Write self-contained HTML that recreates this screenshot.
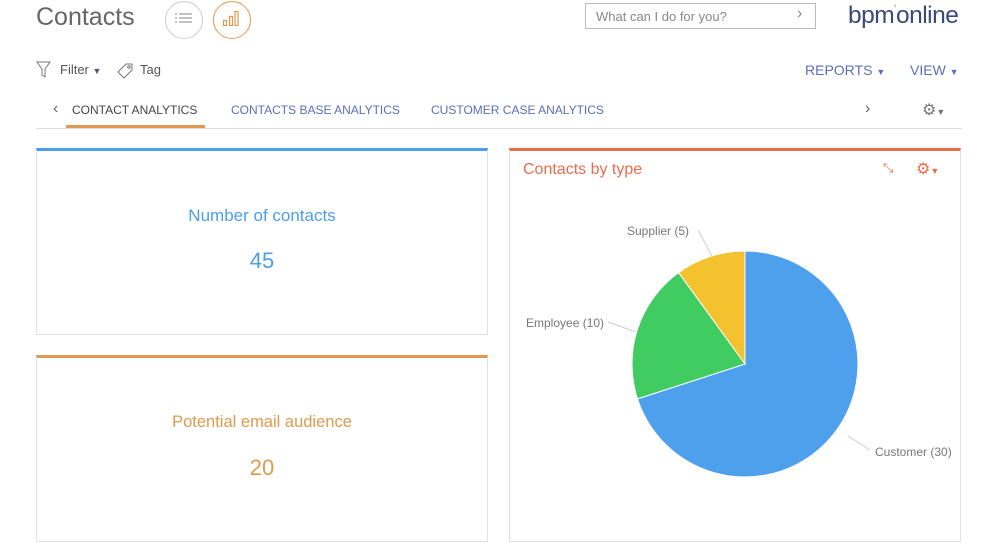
<!DOCTYPE html>
<html><head><style>
body{margin:0;width:1001px;height:554px;background:#fff;font-family:"Liberation Sans",sans-serif;position:relative;overflow:hidden}
.a{position:absolute;white-space:nowrap}
.panel{position:absolute;border:1px solid #e0e0e0;box-sizing:border-box}
</style></head><body>
<div class="a" style="left:36px;top:3px;font-size:25px;color:#666">Contacts</div>
<div class="a" style="left:165px;top:1px;width:36px;height:36px;border:1px solid #ccc;border-radius:50%"></div>
<svg class="a" style="left:175px;top:11px" width="18" height="16"><g stroke="#999" stroke-width="1.2"><line x1="0" y1="3" x2="2" y2="3"/><line x1="4" y1="3" x2="17" y2="3"/><line x1="0" y1="7" x2="2" y2="7"/><line x1="4" y1="7" x2="17" y2="7"/><line x1="0" y1="11" x2="2" y2="11"/><line x1="4" y1="11" x2="17" y2="11"/></g></svg>
<div class="a" style="left:213px;top:1px;width:36px;height:36px;border:1px solid #e0994f;border-radius:50%"></div>
<svg class="a" style="left:222px;top:10px" width="18" height="18"><g fill="none" stroke="#e0994f" stroke-width="1.2"><rect x="1.5" y="10.5" width="3" height="5"/><rect x="7.5" y="6.5" width="3" height="9"/><rect x="13" y="1.5" width="3" height="14"/></g></svg>
<div class="a" style="left:585px;top:3px;width:231px;height:26px;border:1px solid #bbb;box-sizing:border-box"></div>
<div class="a" style="left:596px;top:9px;font-size:13px;color:#888">What can I do for you?</div>
<div class="a" style="left:797px;top:5px;font-size:16px;color:#888">&#8250;</div>
<div class="a" style="left:848px;top:2px;font-size:24.5px;color:#3a4a7a;letter-spacing:-0.5px">bpm<span style="color:#e0994f;font-size:12px;vertical-align:top">'</span>online</div>
<svg class="a" style="left:36px;top:61px" width="15" height="17"><path d="M1 1h13l-5 7v8l-3-2v-6z" fill="none" stroke="#777"/></svg>
<div class="a" style="left:60px;top:62px;font-size:13px;color:#555">Filter <span style="font-size:9px;color:#557">&#9660;</span></div>
<svg class="a" style="left:116px;top:61px" width="18" height="18"><path d="M2 11l8-8h6v6l-8 8z" fill="none" stroke="#777"/><circle cx="13" cy="6" r="1.3" fill="none" stroke="#777"/></svg>
<div class="a" style="left:140px;top:62px;font-size:13px;color:#555">Tag</div>
<div class="a" style="left:805px;top:62px;font-size:14px;color:#5b6fb7">REPORTS <span style="font-size:9px">&#9660;</span></div>
<div class="a" style="left:910px;top:62px;font-size:14px;color:#5b6fb7">VIEW <span style="font-size:9px">&#9660;</span></div>
<div class="a" style="left:53px;top:100px;font-size:16px;color:#666">&#8249;</div>
<div class="a" style="left:72px;top:103px;font-size:12px;color:#444">CONTACT ANALYTICS</div>
<div class="a" style="left:66px;top:125px;width:139px;height:3px;background:#e0994f"></div>
<div class="a" style="left:231px;top:103px;font-size:12px;color:#5b6fb7">CONTACTS BASE ANALYTICS</div>
<div class="a" style="left:431px;top:103px;font-size:12px;color:#5b6fb7">CUSTOMER CASE ANALYTICS</div>
<div class="a" style="left:865px;top:100px;font-size:16px;color:#666">&#8250;</div>
<div class="a" style="left:922px;top:100px;font-size:16px;color:#777">&#9881;<span style="font-size:9px">&#9660;</span></div>
<div class="a" style="left:36px;top:128px;width:926px;height:1px;background:#ddd"></div>

<div class="panel" style="left:36px;top:148px;width:452px;height:187px;border-top:3px solid #4c9ee8"></div>
<div class="a" style="left:36px;top:206px;width:452px;text-align:center;font-size:17px;color:#4c9ee8">Number of contacts</div>
<div class="a" style="left:36px;top:248px;width:452px;text-align:center;font-size:22px;color:#4c9ee8">45</div>
<div class="panel" style="left:36px;top:355px;width:452px;height:187px;border-top:3px solid #e0994f"></div>
<div class="a" style="left:36px;top:413px;width:452px;text-align:center;font-size:16.5px;color:#e0994f">Potential email audience</div>
<div class="a" style="left:36px;top:455px;width:452px;text-align:center;font-size:22px;color:#e0994f">20</div>

<div class="panel" style="left:509px;top:148px;width:452px;height:394px;border-top:3px solid #ea6c4c"></div>
<div class="a" style="left:523px;top:161px;font-size:16px;color:#ea6c4c">Contacts by type</div>
<div class="a" style="left:883px;top:160px;font-size:13px;color:#ea6c4c">&#10529;</div>
<div class="a" style="left:916px;top:159px;font-size:16px;color:#ea6c4c">&#9881;<span style="font-size:9px">&#9660;</span></div>
<svg class="a" style="left:0;top:0" width="1001" height="554">
<path d="M745 364 L745 251 A113 113 0 1 1 637.5 398.9 Z" fill="#4fa0ec" stroke="#fff" stroke-width="1"/>
<path d="M745 364 L637.5 398.9 A113 113 0 0 1 678.6 272.6 Z" fill="#40cc61" stroke="#fff" stroke-width="1"/>
<path d="M745 364 L678.6 272.6 A113 113 0 0 1 745 251 Z" fill="#f4c22e" stroke="#fff" stroke-width="1"/>
<g stroke="#ccc" fill="none"><path d="M698 230 L712 256"/><path d="M608 322 L636 332"/><path d="M848 436 L870 450"/></g>
<g font-size="12" fill="#777" font-family="Liberation Sans,sans-serif"><text x="627" y="235">Supplier (5)</text><text x="526" y="327">Employee (10)</text><text x="875" y="456">Customer (30)</text></g>
</svg>
</body></html>
